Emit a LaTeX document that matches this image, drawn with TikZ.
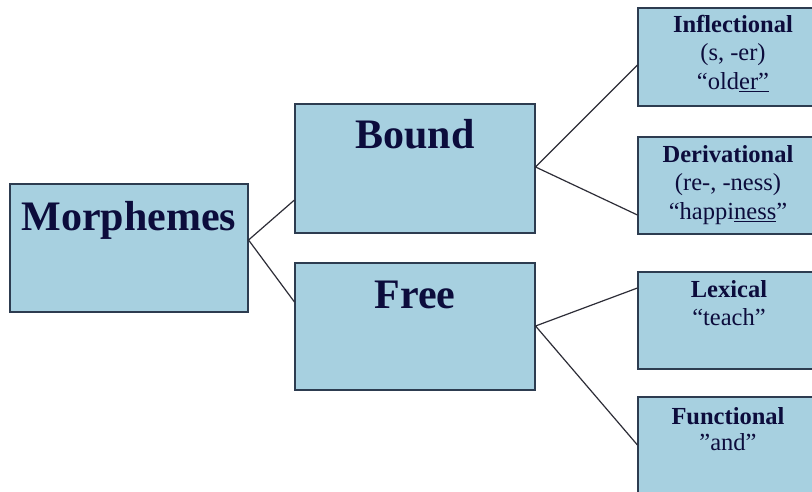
\documentclass[tikz,border=0pt]{standalone}
\usepackage{fontspec}
\setmainfont{Liberation Serif}
\definecolor{boxfill}{RGB}{167,208,224}
\definecolor{boxline}{RGB}{45,60,80}
\definecolor{txt}{RGB}{12,12,60}
\definecolor{conn}{RGB}{45,45,55}
\begin{document}
\begin{tikzpicture}[x=1pt,y=-1pt,
  box/.style={draw=boxline,line width=1.1pt,fill=boxfill,rectangle,inner sep=0pt},
  big/.style={anchor=base,inner sep=0pt,text=txt,font=\fontsize{42}{42}\selectfont\bfseries},
  small/.style={anchor=base,inner sep=0pt,text=txt,font=\fontsize{24.5}{29}\selectfont},
  smallb/.style={small,font=\fontsize{24.5}{29}\selectfont\bfseries},
  conn/.style={draw=conn,line width=1.2pt}]
\useasboundingbox (0,0) rectangle (812,492);
\clip (0,0) rectangle (812,492);
\fill[white] (0,0) rectangle (812,492);
% boxes
\node[box,minimum width=238pt,minimum height=128pt] (morph) at (129,248) {};
\node[box,minimum width=240pt,minimum height=129pt] (bound) at (415,168.5) {};
\node[box,minimum width=240pt,minimum height=127pt] (free) at (415,326.5) {};
\node[box,minimum width=182pt,minimum height=98pt] (infl) at (729,57) {};
\node[box,minimum width=182pt,minimum height=97pt] (deriv) at (729,185.5) {};
\node[box,minimum width=182pt,minimum height=97pt] (lex) at (729,320.5) {};
\node[box,minimum width=182pt,minimum height=98pt] (func) at (729,446) {};
% connector points
\coordinate (mv) at (morph.east |- 0,240);
\coordinate (bl) at (bound.west |- 0,200);
\coordinate (fl) at (free.west |- 0,302);
\coordinate (bv) at (bound.east |- 0,167);
\coordinate (il) at (infl.west |- 0,65);
\coordinate (dl) at (deriv.west |- 0,215);
\coordinate (fv) at (free.east |- 0,326);
\coordinate (ll) at (lex.west |- 0,288);
\coordinate (ul) at (func.west |- 0,445);
\draw[conn] (bl) -- (mv) -- (fl);
\draw[conn] (il) -- (bv) -- (dl);
\draw[conn] (ll) -- (fv) -- (ul);
% texts
\node[big] (tmorph) at (129,230) {Morphemes};
\node[big] (tbound) at (415,149) {Bound};
\node[big] (tfree) at (415,308) {Free};
\node[smallb] (tinfl1) at (733,33) {Inflectional};
\node[small] (tinfl2) at (733,61) {(s, -er)};
\node[small] (tinfl3) at (733,90) {“old\underline{er”}};
\node[smallb] (tder1) at (728,163) {Derivational};
\node[small] (tder2) at (728,191) {(re-, -ness)};
\node[small] (tder3) at (728,220) {“happi\underline{ness}”};
\node[smallb] (tlex1) at (729,298) {Lexical};
\node[small] (tlex2) at (729,325) {“teach”};
\node[smallb] (tfun1) at (728,424) {Functional};
\node[small] (tfun2) at (728,450) {”and”};
\end{tikzpicture}
\end{document}
